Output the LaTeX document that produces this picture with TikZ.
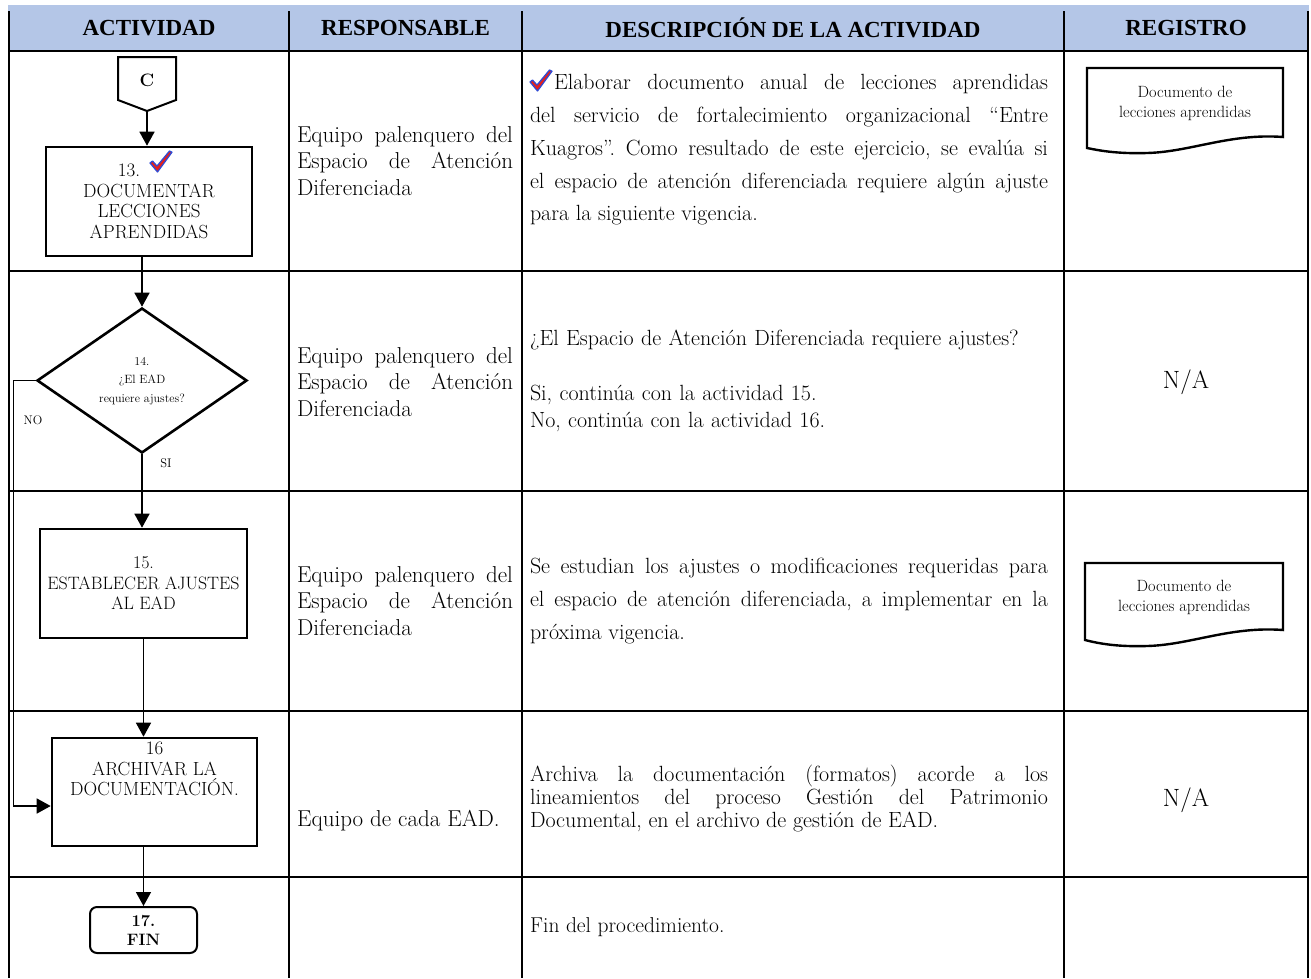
\documentclass[tikz,border=0pt]{standalone}
\usepackage{fontspec}
\newfontfamily\hdrfont{Liberation Serif}
\usetikzlibrary{arrows.meta,shapes.geometric}
\definecolor{hdrblue}{HTML}{B4C6E7}
\definecolor{chkred}{HTML}{E3201C}
\definecolor{chkblue}{HTML}{2D4BD6}
\newcommand{\chkmark}[2]{%
  \begin{scope}[shift={(#1,#2)}]
    \filldraw[fill=chkred, draw=chkblue, line width=1.2pt, line join=round]
      (0,12) -- (2.5,10) -- (7,15) -- (19.5,0) -- (22,1.2) -- (7.5,21) -- cycle;
  \end{scope}}
\frenchspacing
\begin{document}
\begin{tikzpicture}[x=1pt,y=-1pt,
  tline/.style={line width=1.2pt},
  shp/.style={draw, line width=2.6pt, fill=white},
  conn/.style={line width=1.5pt, -{Triangle[length=14pt,width=15pt]}},
  hdr/.style={font=\hdrfont\bfseries\fontsize{23}{27}\selectfont},
  boxtxt/.style={align=center, font=\fontsize{19}{20.5}\selectfont},
  resp/.style={text width=216pt, align=justify, inner sep=0pt, font=\fontsize{23}{26.7}\selectfont},
  desc/.style={text width=518pt, align=justify, inner sep=0pt, font=\fontsize{22}{32.75}\selectfont},
  regtxt/.style={align=center, font=\fontsize{16.3}{20}\selectfont},
  natxt/.style={font=\fontsize{25}{28}\selectfont},
  small/.style={font=\fontsize{12.5}{14}\selectfont}]
\useasboundingbox (0,0) rectangle (1311,978);
% header
\fill[hdrblue] (8,5) rectangle (1309,51);
\node[hdr] (h1) at (149,28) {ACTIVIDAD};
\node[hdr] (h2) at (405.5,28) {RESPONSABLE};
\node[hdr] (h3) at (793,28) {DESCRIPCIÓN DE LA ACTIVIDAD};
\node[hdr] (h4) at (1186,28) {REGISTRO};
% table lines
\foreach \xx in {9,289,522,1064,1308} \draw[tline] (\xx,11) -- (\xx,978);
\foreach \yy in {51,271,491,711,877} \draw[tline] (9,\yy) -- (1308,\yy);

% ---- column 1 flow ----
\draw[line width=2pt, fill=white] (118,57) -- (176,57) -- (176,100) -- (147,111) -- (118,100) -- cycle;
\node[font=\bfseries\fontsize{18}{20}\selectfont] (C) at (147,80) {C};
\coordinate (Cpt) at (147,111);

\node[shp, minimum width=206pt, minimum height=109pt, inner sep=0pt, boxtxt] (b13) at (149,201.5)
  {13.\hspace*{40pt}\\DOCUMENTAR\\LECCIONES\\APRENDIDAS};
\chkmark{150}{151}

\node[shp, diamond, minimum width=210pt, minimum height=145pt, inner sep=0pt] (d14) at (142,380.5) {};
\node[align=center, font=\fontsize{12}{18.5}\selectfont] (t14) at (142,381) {14.\\¿El EAD\\requiere ajustes?};
\node[small] (lno) at (33,420) {NO};
\node[small] (lsi) at (166,463) {SI};

\node[shp, minimum width=207pt, minimum height=109pt, inner sep=0pt, align=center,
  font=\fontsize{17.9}{20.5}\selectfont] (b15) at (143.5,583.5) {15.\\ESTABLECER AJUSTES\\AL EAD};

\node[shp, minimum width=205pt, minimum height=108pt, inner sep=0pt] (b16) at (154.5,792) {};
\node[boxtxt, anchor=north, inner sep=0pt] (t16) at (154.5,742) {16\\ARCHIVAR LA\\DOCUMENTACIÓN.};

\node[draw, line width=2pt, rounded corners=7pt, minimum width=107pt, minimum height=46pt, align=center,
  font=\bfseries\fontsize{16.5}{19}\selectfont] (fin) at (143.5,930) {17.\\FIN};

% connectors
\draw[conn] (Cpt) -- (Cpt |- b13.north);
\draw[conn] (b13.south -| d14.north) -- (d14.north);
\draw[conn] (d14.south) -- (d14.south |- b15.north);
\draw[conn] (b15.south) -- (b15.south |- b16.north);
\draw[conn] (d14.west) -- ++(-22,0) |- ([yshift=-14pt]b16.west);
\draw[conn] (b16.south -| fin.north) -- (fin.north);

% ---- column 2 ----
\node[resp] (r1) at (405,161) {Equipo palenquero del\linebreak Espacio de Atención\linebreak Diferenciada};
\node[resp] (r2) at (405,382) {Equipo palenquero del\linebreak Espacio de Atención\linebreak Diferenciada};
\node[resp] (r3) at (405,601) {Equipo palenquero del\linebreak Espacio de Atención\linebreak Diferenciada};
\node[anchor=west, inner sep=0pt, font=\fontsize{23}{26.7}\selectfont] (r4) at (297,821) {Equipo de cada EAD.};

% ---- column 3 ----
\node[desc] (s1) at (789,150) {\hspace*{24pt}Elaborar documento anual de lecciones aprendidas\linebreak del servicio de fortalecimiento organizacional “Entre\linebreak Kuagros”. Como resultado de este ejercicio, se evalúa si\linebreak el espacio de atención diferenciada requiere algún ajuste\linebreak para la siguiente vigencia.};
\chkmark{530}{70}
\node[text width=518pt, align=left, inner sep=0pt, font=\fontsize{22}{27}\selectfont] (s2) at (789,381)
  {¿El Espacio de Atención Diferenciada requiere ajustes?\\[28pt]Si, continúa con la actividad 15.\\No, continúa con la actividad 16.};
\node[desc] (s3) at (789,601) {Se estudian los ajustes o modificaciones requeridas para\linebreak el espacio de atención diferenciada, a implementar en la\linebreak próxima vigencia.};
\node[desc, font=\fontsize{22}{23}\selectfont] (s4) at (789,798) {Archiva la documentación (formatos) acorde a los\linebreak lineamientos del proceso Gestión del Patrimonio\linebreak Documental, en el archivo de gestión de EAD.};
\node[anchor=west, inner sep=0pt, font=\fontsize{21.5}{26}\selectfont] (s5) at (530,927) {Fin del procedimiento.};

% ---- column 4 ----
\draw[line width=2.4pt, fill=white] (1087,68) -- (1283,68) -- (1283,137)
  .. controls (1230,133) and (1190,152) .. (1147,153)
  .. controls (1115,154) and (1097,150) .. (1087,148) -- cycle;
\node[regtxt] (g1) at (1185,103) {Documento de\\lecciones aprendidas};
\node[natxt] (na2) at (1186,382) {N/A};
\draw[line width=2.4pt, fill=white] (1085,563) -- (1283,563) -- (1283,630)
  .. controls (1230,626) and (1190,645) .. (1147,646)
  .. controls (1115,647) and (1097,643) .. (1085,640) -- cycle;
\node[regtxt] (g3) at (1184,597) {Documento de\\lecciones aprendidas};
\node[natxt] (na4) at (1186,800) {N/A};
\end{tikzpicture}
\end{document}
